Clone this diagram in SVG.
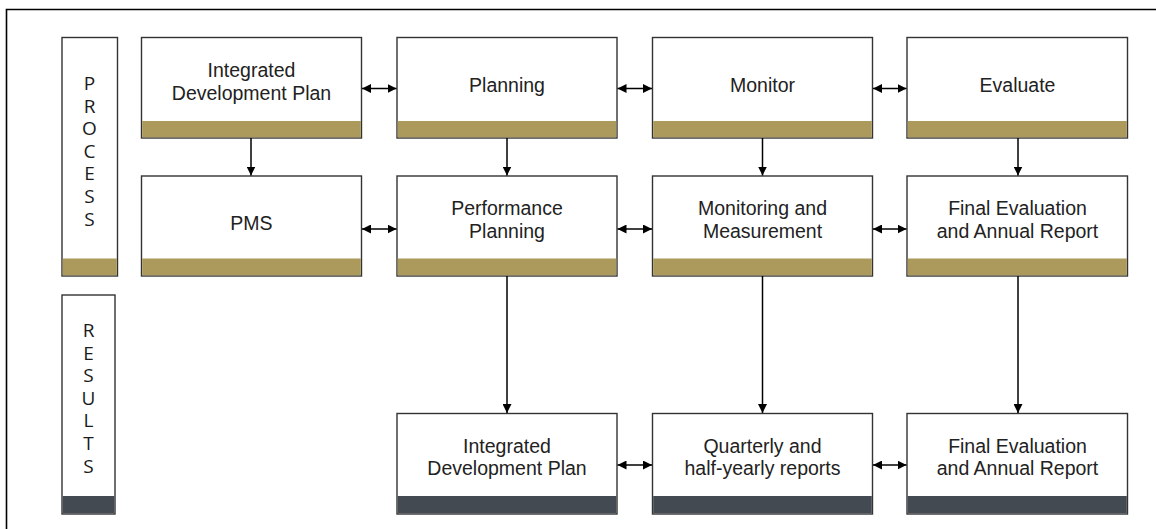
<svg xmlns="http://www.w3.org/2000/svg" width="1156" height="529" viewBox="0 0 1156 529">
<defs>
<style>
.box{fill:#fff;stroke:#333;stroke-width:1.4}
.gold{fill:#ab9a5b}
.dark{fill:#434a51}
.t{font-family:"Liberation Sans",Arial,sans-serif;font-size:19.5px;fill:#222;text-anchor:middle}
.v{font-family:"Open Sans","Liberation Sans",sans-serif;font-size:19px;fill:#1a1a1a;writing-mode:vertical-rl;text-orientation:upright;letter-spacing:-3.4px}
.c{stroke:#000;stroke-width:1.5;fill:none}
</style>
<marker id="ah" viewBox="0 0 10 10" refX="10" refY="5" markerWidth="9" markerHeight="9" markerUnits="userSpaceOnUse" orient="auto-start-reverse">
<path d="M0,0 L10,5 L0,10 z" fill="#000"/>
</marker>
</defs>
<rect width="1156" height="529" fill="#fff"/>
<path d="M6.5,529 V9.5 H1156" fill="none" stroke="#000" stroke-width="1.6"/>

<g id="process-label">
<rect class="box" x="62" y="37.5" width="55.5" height="238.5"/>
<rect class="gold" x="62.7" y="258.5" width="54.1" height="16.8"/>
<text class="v" x="89.5" y="70">PROCESS</text>
</g>
<g id="results-label">
<rect class="box" x="62" y="295" width="53" height="219"/>
<rect class="dark" x="62.7" y="496" width="51.6" height="17.3"/>
<text class="v" x="88.5" y="317">RESULTS</text>
</g>

<g id="idp">
<rect class="box" x="141.5" y="37.5" width="220" height="100.5"/>
<rect class="gold" x="142.2" y="121" width="218.6" height="16.3"/>
<text class="t" x="251.5" y="77">Integrated<tspan x="251.5" dy="22.5">Development Plan</tspan></text>
</g>
<g id="planning">
<rect class="box" x="397" y="37.5" width="220" height="100.5"/>
<rect class="gold" x="397.7" y="121" width="218.6" height="16.3"/>
<text class="t" x="507" y="91.5">Planning</text>
</g>
<g id="monitor">
<rect class="box" x="652.5" y="37.5" width="220" height="100.5"/>
<rect class="gold" x="653.2" y="121" width="218.6" height="16.3"/>
<text class="t" x="762.5" y="91.5">Monitor</text>
</g>
<g id="evaluate">
<rect class="box" x="907" y="37.5" width="220.5" height="100.5"/>
<rect class="gold" x="907.7" y="121" width="219.1" height="16.3"/>
<text class="t" x="1017.5" y="91.5">Evaluate</text>
</g>

<g id="pms">
<rect class="box" x="141.5" y="176" width="220" height="100"/>
<rect class="gold" x="142.2" y="258.5" width="218.6" height="16.8"/>
<text class="t" x="251.5" y="230">PMS</text>
</g>
<g id="performance-planning">
<rect class="box" x="397" y="176" width="220" height="100"/>
<rect class="gold" x="397.7" y="258.5" width="218.6" height="16.8"/>
<text class="t" x="507" y="215">Performance<tspan x="507" dy="22.5">Planning</tspan></text>
</g>
<g id="monitoring-measurement">
<rect class="box" x="652.5" y="176" width="220" height="100"/>
<rect class="gold" x="653.2" y="258.5" width="218.6" height="16.8"/>
<text class="t" x="762.5" y="215">Monitoring and<tspan x="762.5" dy="22.5">Measurement</tspan></text>
</g>
<g id="final-evaluation">
<rect class="box" x="907" y="176" width="220.5" height="100"/>
<rect class="gold" x="907.7" y="258.5" width="219.1" height="16.8"/>
<text class="t" x="1017.5" y="215">Final Evaluation<tspan x="1017.5" dy="22.5">and Annual Report</tspan></text>
</g>

<g id="result-idp">
<rect class="box" x="397" y="413.5" width="220" height="100.5"/>
<rect class="dark" x="397.7" y="496" width="218.6" height="17.3"/>
<text class="t" x="507" y="452.5">Integrated<tspan x="507" dy="22.5">Development Plan</tspan></text>
</g>
<g id="result-reports">
<rect class="box" x="652.5" y="413.5" width="220" height="100.5"/>
<rect class="dark" x="653.2" y="496" width="218.6" height="17.3"/>
<text class="t" x="762.5" y="452.5">Quarterly and<tspan x="762.5" dy="22.5">half-yearly reports</tspan></text>
</g>
<g id="result-final">
<rect class="box" x="907" y="413.5" width="220.5" height="100.5"/>
<rect class="dark" x="907.7" y="496" width="219.1" height="17.3"/>
<text class="t" x="1017.5" y="452.5">Final Evaluation<tspan x="1017.5" dy="22.5">and Annual Report</tspan></text>
</g>

<g id="connectors">
<line class="c" x1="362" y1="88.5" x2="396.5" y2="88.5" marker-start="url(#ah)" marker-end="url(#ah)"/>
<line class="c" x1="617.5" y1="88.5" x2="652" y2="88.5" marker-start="url(#ah)" marker-end="url(#ah)"/>
<line class="c" x1="873" y1="88.5" x2="906.5" y2="88.5" marker-start="url(#ah)" marker-end="url(#ah)"/>
<line class="c" x1="362" y1="229" x2="396.5" y2="229" marker-start="url(#ah)" marker-end="url(#ah)"/>
<line class="c" x1="617.5" y1="229" x2="652" y2="229" marker-start="url(#ah)" marker-end="url(#ah)"/>
<line class="c" x1="873" y1="229" x2="906.5" y2="229" marker-start="url(#ah)" marker-end="url(#ah)"/>
<line class="c" x1="617.5" y1="465" x2="652" y2="465" marker-start="url(#ah)" marker-end="url(#ah)"/>
<line class="c" x1="873" y1="465" x2="906.5" y2="465" marker-start="url(#ah)" marker-end="url(#ah)"/>
<line class="c" x1="251" y1="138" x2="251" y2="175.5" marker-end="url(#ah)"/>
<line class="c" x1="507" y1="138" x2="507" y2="175.5" marker-end="url(#ah)"/>
<line class="c" x1="762.5" y1="138" x2="762.5" y2="175.5" marker-end="url(#ah)"/>
<line class="c" x1="1018" y1="138" x2="1018" y2="175.5" marker-end="url(#ah)"/>
<line class="c" x1="507" y1="276" x2="507" y2="413" marker-end="url(#ah)"/>
<line class="c" x1="762.5" y1="276" x2="762.5" y2="413" marker-end="url(#ah)"/>
<line class="c" x1="1018" y1="276" x2="1018" y2="413" marker-end="url(#ah)"/>
</g>
</svg>
